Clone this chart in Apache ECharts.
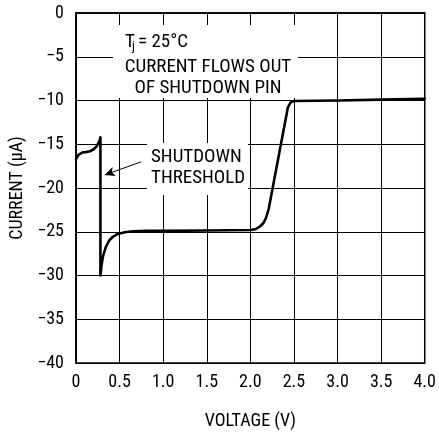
<!DOCTYPE html>
<html><head><meta charset="utf-8">
<script src="https://cdn.jsdelivr.net/npm/echarts@6/dist/echarts.min.js"></script>
<style>html,body{margin:0;padding:0;background:#fff}#c{width:439px;height:435px}</style>
</head><body><div id="c"></div>
<script>
const xTicks = [0, 0.5, 1.0, 1.5, 2.0, 2.5, 3.0, 3.5, 4.0];
const yTicks = [0, -5, -10, -15, -20, -25, -30, -35, -40];
const voltage = [0, 0.03, 0.07, 0.11, 0.16, 0.2, 0.24, 0.27, 0.28, 0.28, 0.29, 0.31, 0.34, 0.38, 0.42, 0.46, 0.5, 0.56, 0.65, 0.8, 1.0, 1.5, 2.0, 2.06, 2.11, 2.15, 2.18, 2.21, 2.43, 2.46, 2.5, 3.0, 3.5, 4.0];
const current = [-16.7, -16.2, -15.95, -15.9, -15.8, -15.6, -15.2, -14.6, -14.2, -30.0, -29.0, -27.8, -26.8, -26.0, -25.6, -25.35, -25.2, -25.05, -24.95, -24.9, -24.9, -24.85, -24.8, -24.7, -24.4, -24.0, -23.4, -22.4, -10.8, -10.25, -10.05, -10.0, -9.9, -9.8];
const arrowFrom = [0.75, -17.0];
const arrowTo = [0.33, -18.5];

const FONT = "'Liberation Sans Narrow','Roboto Condensed','DejaVu Sans Condensed','Liberation Sans',sans-serif";
const chart = echarts.init(document.getElementById('c'));
const fmtX = v => v === 0 ? '0' : v.toFixed(1);
const fmtY = v => v === 0 ? '0' : '\u2212' + Math.abs(v);
chart.setOption({
  animation: false,
  backgroundColor: '#fff',
  grid: {left: 76, right: 11, top: 13, bottom: 71, show: true, borderColor: '#000', borderWidth: 1.5, backgroundColor: 'transparent'},
  xAxis: {
    type: 'value', min: 0, max: 4, interval: 0.5,
    name: 'VOLTAGE (V)', nameLocation: 'middle', nameGap: 49,
    nameTextStyle: {fontFamily: FONT, fontSize: 18, color: '#000'},
    axisLine: {show: true, lineStyle: {color: '#000', width: 1.5}},
    axisTick: {show: false},
    axisLabel: {formatter: fmtX, fontFamily: FONT, fontSize: 18, color: '#000', margin: 10},
    splitLine: {show: true, lineStyle: {color: '#000', width: 1}}
  },
  yAxis: {
    type: 'value', min: -40, max: 0, interval: 5,
    name: 'CURRENT (\u00b5A)', nameLocation: 'middle', nameGap: 47,
    nameTextStyle: {fontFamily: FONT, fontSize: 18, color: '#000'},
    axisLine: {show: true, lineStyle: {color: '#000', width: 1.5}},
    axisTick: {show: false},
    axisLabel: {formatter: fmtY, fontFamily: FONT, fontSize: 18, color: '#000', margin: 12},
    splitLine: {show: true, lineStyle: {color: '#000', width: 1}}
  },
  series: [{
    type: 'line', data: voltage.map((v, i) => [v, current[i]]),
    showSymbol: false, symbol: 'none', z: 5,
    lineStyle: {color: '#000', width: 2.6, join: 'round', cap: 'round'},
    markLine: {
      silent: true, symbol: ['none', 'arrow'], symbolSize: [7, 10], z: 6,
      label: {show: false},
      lineStyle: {color: '#000', width: 1, type: 'solid'},
      data: [[{coord: arrowFrom}, {coord: arrowTo}]]
    }
  }],
  graphic: [
    {type: 'rect', z: 50, shape: {x: 113, y: 25, width: 185, height: 73}, style: {fill: '#fff'}},
    {type: 'rect', z: 50, shape: {x: 147, y: 143, width: 101, height: 52}, style: {fill: '#fff'}},
    {type: 'text', z: 51, x: 125, y: 42, style: {text: 'T', font: '19px ' + FONT, fill: '#000', textVerticalAlign: 'middle'}},
    {type: 'text', z: 51, x: 132, y: 47, style: {text: 'j', font: '13px ' + FONT, fill: '#000', textVerticalAlign: 'middle'}},
    {type: 'text', z: 51, x: 138, y: 42, style: {text: '= 25\u00b0C', font: '19px ' + FONT, fill: '#000', textVerticalAlign: 'middle'}},
    {type: 'text', z: 51, x: 208, y: 67, style: {text: 'CURRENT FLOWS OUT', font: '19px ' + FONT, fill: '#000', textAlign: 'center', textVerticalAlign: 'middle'}},
    {type: 'text', z: 51, x: 208, y: 88, style: {text: 'OF SHUTDOWN PIN', font: '19px ' + FONT, fill: '#000', textAlign: 'center', textVerticalAlign: 'middle'}},
    {type: 'text', z: 51, x: 151, y: 157, style: {text: 'SHUTDOWN', font: '19px ' + FONT, fill: '#000', textVerticalAlign: 'middle'}},
    {type: 'text', z: 51, x: 151, y: 178, style: {text: 'THRESHOLD', font: '19px ' + FONT, fill: '#000', textVerticalAlign: 'middle'}}
  ]
});
</script></body></html>
